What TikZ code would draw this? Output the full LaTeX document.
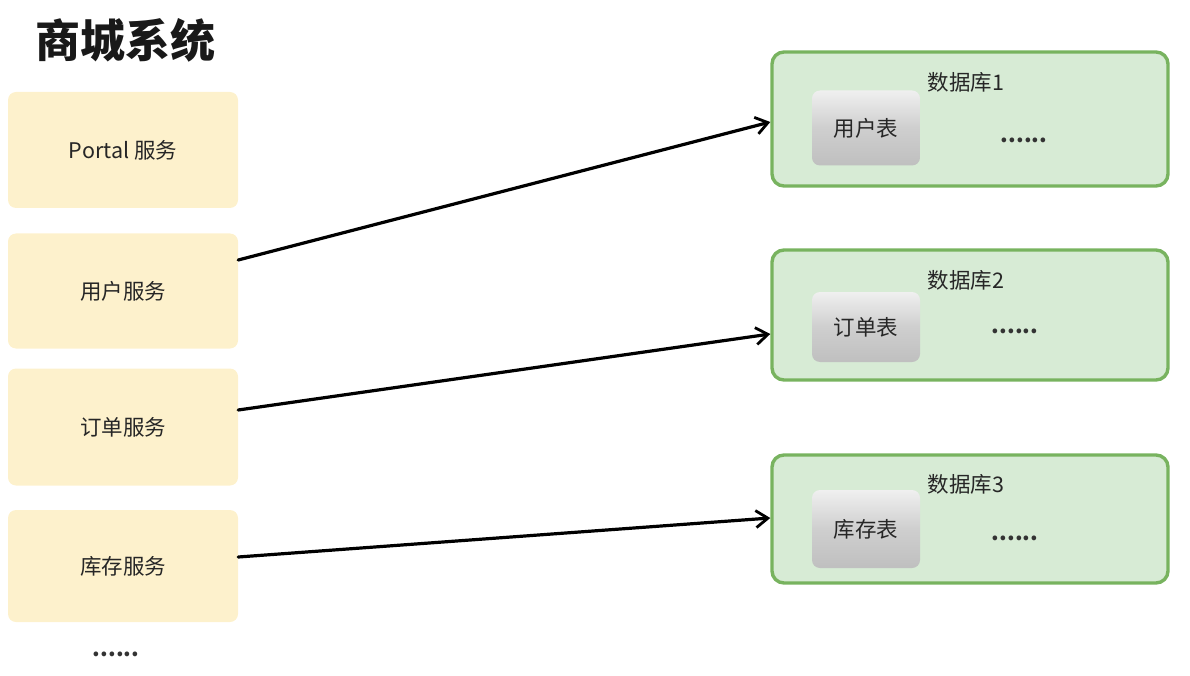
\documentclass[tikz,border=0pt]{standalone}
\usepackage{fontspec}
\newfontfamily\cjk{Noto Sans CJK SC}
\usetikzlibrary{arrows.meta}
\definecolor{svcfill}{HTML}{FDF1CC}
\definecolor{dbfill}{HTML}{D7EBD5}
\definecolor{dbdraw}{HTML}{78B35F}
\tikzset{
  svc/.style={fill=svcfill, rounded corners=8pt, minimum width=230pt, inner sep=0pt, font=\cjk\fontsize{21.5}{26}\selectfont, text=black!85},
  db/.style={draw=dbdraw, line width=3.4pt, fill=dbfill, rounded corners=12pt, minimum width=396pt, inner sep=0pt},
  tbl/.style={rounded corners=8pt, top color=gray!12, bottom color=gray!50, middle color=gray!38, minimum width=108pt, inner sep=0pt, font=\cjk\fontsize{21.5}{26}\selectfont, text=black!85},
  lbl/.style={font=\cjk\fontsize{21.5}{26}\selectfont, text=black!85},
  dots/.style={font=\cjk\bfseries\fontsize{22}{26}\selectfont, text=black!80},
  conn/.style={line width=3.2pt, -{Straight Barb[length=12pt,width=17pt,line width=2.8pt]}, line cap=round}
}
\begin{document}
\begin{tikzpicture}[x=1pt,y=-1pt]
\useasboundingbox (0,0) rectangle (1190,676);
\node[font=\cjk\bfseries\fontsize{45}{50}\selectfont, text=black!90] (title) at (125,40) {商城系统};
\node[svc, minimum height=116pt] (s1) at (123,150) {Portal 服务};
\node[svc, minimum height=115pt] (s2) at (123,291) {用户服务};
\node[svc, minimum height=117pt] (s3) at (123,427) {订单服务};
\node[svc, minimum height=112pt] (s4) at (123,566) {库存服务};
\node[dots] (sdots) at (116,654) {......};

\node[db, minimum height=134pt] (db1) at (970,119) {};
\node[db, minimum height=130pt] (db2) at (970,315) {};
\node[db, minimum height=128pt] (db3) at (970,519) {};

\node[lbl] (t1) at (966,82) {数据库1};
\node[lbl] (t2) at (966,280) {数据库2};
\node[lbl] (t3) at (966,484) {数据库3};

\node[tbl, minimum height=75pt] (u1) at (866,128) {用户表};
\node[tbl, minimum height=70pt] (u2) at (866,327) {订单表};
\node[tbl, minimum height=78pt] (u3) at (866,529) {库存表};

\node[dots] (d1) at (1024,140) {......};
\node[dots] (d2) at (1015,331) {......};
\node[dots] (d3) at (1015,538) {......};

\draw[conn] ([yshift=31pt]s2.east) -- ([yshift=-3pt]db1.west);
\draw[conn] ([yshift=17pt]s3.east) -- ([yshift=-19pt]db2.west);
\draw[conn] ([yshift=9pt]s4.east) -- ([yshift=1pt]db3.west);
\end{tikzpicture}
\end{document}
